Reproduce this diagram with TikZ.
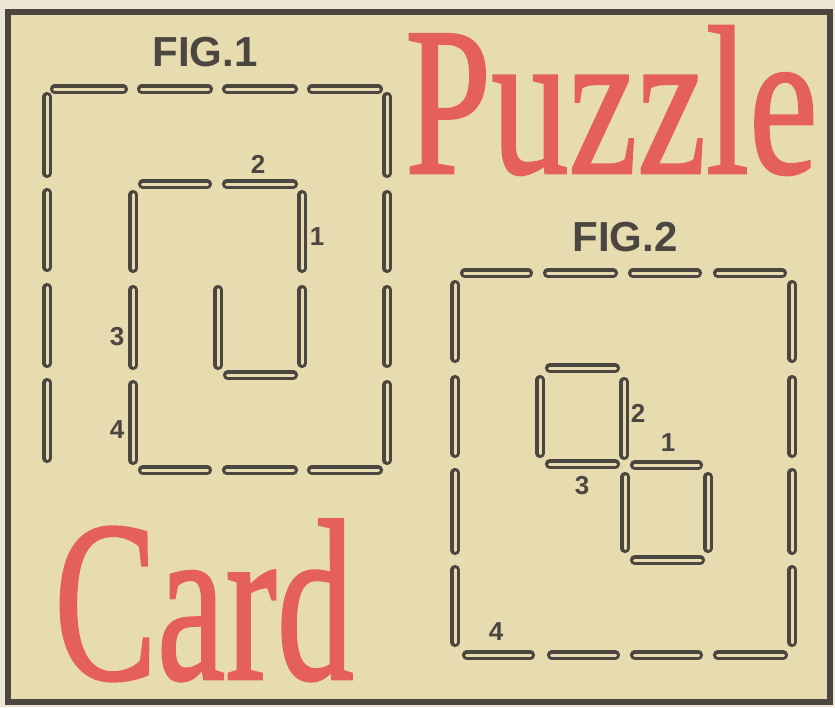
\documentclass[tikz,border=0pt]{standalone}
\usepackage{fontspec}
\setmainfont{Liberation Serif}
\newfontfamily\labfont{Liberation Sans}
\newfontfamily\titlefont[FakeBold=1.2]{Liberation Serif}
\definecolor{paper}{HTML}{E6DCB0}
\definecolor{outside}{HTML}{ECE7D6}
\definecolor{ink}{HTML}{4B4640}
\definecolor{redtitle}{HTML}{E6605A}
\tikzset{
  stick/.style={draw=ink, line width=3.1pt, double=paper, double distance=3pt, line cap=round},
  frame/.style={draw=ink, line width=6pt, fill=paper},
  figlabel/.style={inner sep=0pt, text=ink, font=\labfont\bfseries\fontsize{42}{42}\selectfont},
  numlabel/.style={inner sep=0pt, text=ink, font=\labfont\bfseries\fontsize{26}{26}\selectfont},
  title/.style={inner sep=0pt, text=redtitle, anchor=base west}
}
\newcommand\hs[3]{\draw[stick] ({#1+4.5},#3) -- ({#2-4.5},#3);}
\newcommand\vs[3]{\draw[stick] (#1,{#2+4.5}) -- (#1,{#3-4.5});}
\begin{document}
\begin{tikzpicture}[x=1pt,y=-1pt]
\useasboundingbox (0,0) rectangle (835,707);
\fill[outside] (0,0) rectangle (835,707);
\draw[frame] (8,12) rectangle (830,702);

% titles
\node[title] (puzzle) at (405,173) {\scalebox{0.73}[1]{\titlefont\fontsize{212}{212}\selectfont Puzzle}};
\node[title] (card) at (54,679) {\scalebox{0.67}[1]{\titlefont\fontsize{230}{230}\selectfont Card}};

% FIG 1
\node[figlabel] (fig1) at (205,52) {FIG.1};
\foreach \a/\b in {50/128,137/213,222/298,307/383} {\hs{\a}{\b}{89}}
\foreach \a/\b in {92/178,188/272,283/368,378/463} {\vs{47}{\a}{\b}}
\foreach \a/\b in {92/178,190/273,285/368,380/465} {\vs{387}{\a}{\b}}
\foreach \a/\b in {138/212,222/298,307/383} {\hs{\a}{\b}{470}}
\foreach \a/\b in {190/273,285/370,380/465} {\vs{133}{\a}{\b}}
\foreach \a/\b in {138/212,222/298} {\hs{\a}{\b}{184}}
\foreach \a/\b in {190/273,285/368} {\vs{302}{\a}{\b}}
\hs{223}{298}{375}
\vs{218}{285}{370}
\node[numlabel] (f1n2) at (258,164) {2};
\node[numlabel] (f1n1) at (317,237) {1};
\node[numlabel] (f1n3) at (117,337) {3};
\node[numlabel] (f1n4) at (117,430) {4};

% FIG 2
\node[figlabel] (fig2) at (625,237) {FIG.2};
\foreach \a/\b in {460/533,543/618,628/702,713/787} {\hs{\a}{\b}{273}}
\foreach \a/\b in {280/363,375/458,468/555,565/647} {\vs{455}{\a}{\b}\vs{792}{\a}{\b}}
\foreach \a/\b in {462/535,547/620,630/703,713/788} {\hs{\a}{\b}{655}}
\hs{545}{620}{368}
\vs{540}{375}{458}
\vs{624}{377}{460}
\hs{545}{620}{464}
\hs{630}{703}{465}
\vs{625}{472}{553}
\vs{708}{472}{553}
\hs{630}{705}{560}
\node[numlabel] (f2n2) at (638,413) {2};
\node[numlabel] (f2n1) at (668,443) {1};
\node[numlabel] (f2n3) at (582,486) {3};
\node[numlabel] (f2n4) at (496,632) {4};
\end{tikzpicture}
\end{document}
